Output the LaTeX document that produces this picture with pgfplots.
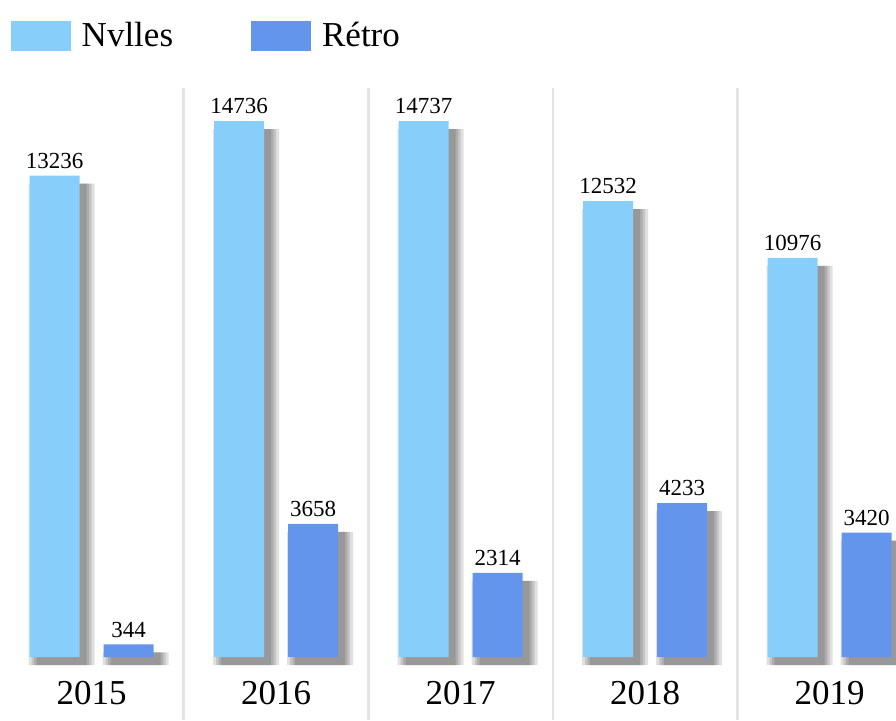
\documentclass[border=0pt]{standalone}
\usepackage{fontspec}
\setmainfont{Liberation Serif}
\usepackage{pgfplots}
\usepackage{pgfplotstable}
\pgfplotsset{compat=1.18}

\definecolor{nvlles}{HTML}{87CEFA}
\definecolor{retro}{HTML}{6495ED}
\definecolor{sep}{HTML}{E4E4E4}

\pgfplotstableread{
x nvlles retro
0 13236 344
1 14736 3658
2 14737 2314
3 12532 4233
4 10976 3420
}\data

\pgfplotsset{
  shadowbar/.style={ybar, fill=black, draw=none, opacity=0.12, forget plot,
    transform canvas={xshift=3.5pt, yshift=-4pt}},
}

\begin{document}
\begin{tikzpicture}
\begin{axis}[
  at={(0,0)}, anchor=south west,
  scale only axis,
  width=448pt, height=316pt,
  xmin=-0.496, xmax=4.36,
  ymin=-1732, ymax=15645,
  axis line style={draw=none},
  major tick length=0pt,
  ytick=\empty,
  xtick={0,1,2,3,4},
  xticklabels={2015,2016,2017,2018,2019},
  xticklabel style={anchor=center, yshift=13.5pt, font=\fontsize{17.5}{20}\selectfont},
  extra x ticks={0.5,1.5,2.5,3.5},
  extra x tick labels={},
  extra x tick style={grid=major, major grid style={draw=sep, line width=1.3pt}},
  /pgf/number format/1000 sep={},
  /pgf/number format/assume math mode=true,
  every node near coord/.append style={font=\fontsize{11.5}{13}\selectfont, black},
  legend columns=2,
  legend style={at={(0.012,1.111)}, anchor=north west, draw=none, fill=none,
    inner sep=0pt, outer sep=0pt,
    font=\fontsize{17.5}{20}\selectfont,
    /tikz/every odd column/.append style={column sep=3.5pt},
    /tikz/every even column/.append style={column sep=37pt}},
  legend image code/.code={\fill[#1] (0pt,-7.5pt) rectangle (30pt,7.5pt);},
]
% soft shadows
\addplot[shadowbar, bar width=33pt, bar shift=-18.5pt] table[x=x, y=nvlles] {\data};
\addplot[shadowbar, bar width=30pt, bar shift=-18.5pt] table[x=x, y=nvlles] {\data};
\addplot[shadowbar, bar width=27.5pt, bar shift=-18.5pt] table[x=x, y=nvlles] {\data};
\addplot[shadowbar, bar width=25pt, bar shift=-18.5pt] table[x=x, y=nvlles] {\data};
\addplot[shadowbar, bar width=33pt, bar shift=18.5pt] table[x=x, y=retro] {\data};
\addplot[shadowbar, bar width=30pt, bar shift=18.5pt] table[x=x, y=retro] {\data};
\addplot[shadowbar, bar width=27.5pt, bar shift=18.5pt] table[x=x, y=retro] {\data};
\addplot[shadowbar, bar width=25pt, bar shift=18.5pt] table[x=x, y=retro] {\data};
% bars
\addplot[ybar, bar width=25pt, bar shift=-18.5pt, fill=nvlles, draw=none,
  nodes near coords, every node near coord/.append style={xshift=-18.5pt}]
  table[x=x, y=nvlles] {\data};
\addlegendentry{Nvlles}
\addplot[ybar, bar width=25pt, bar shift=18.5pt, fill=retro, draw=none,
  nodes near coords, every node near coord/.append style={xshift=18.5pt}]
  table[x=x, y=retro] {\data};
\addlegendentry{Rétro}
\end{axis}
\pgfresetboundingbox
\path (0,0) rectangle (448pt,360pt);
\end{tikzpicture}
\end{document}
